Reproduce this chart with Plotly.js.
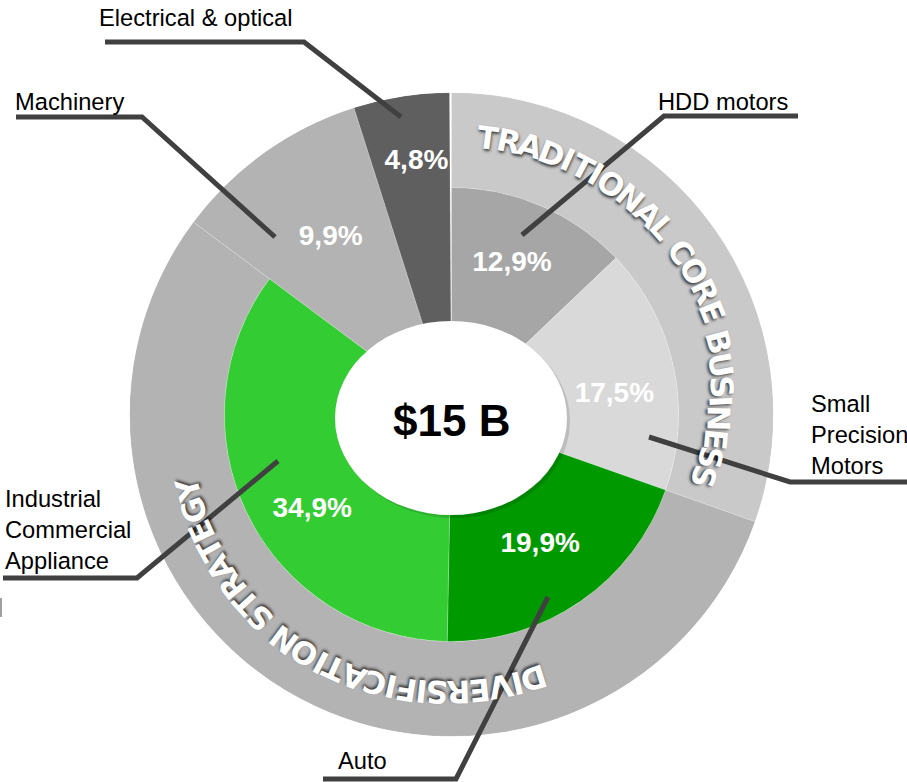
<!DOCTYPE html>
<html><head><meta charset="utf-8">
<script src="https://cdn.plot.ly/plotly-3.0.1.min.js"></script>
<style>html,body{margin:0;padding:0;background:#fff;}#chart{width:907px;height:782px;}</style>
</head><body><div id="chart"></div>
<script>
// ---------- data ----------
const categories = ["HDD motors", "Small Precision Motors", "Auto", "Industrial Commercial Appliance", "Machinery", "Electrical & optical"];
const categoryLabels = ["HDD motors", "Small<br>Precision<br>Motors", "Auto", "Industrial<br>Commercial<br>Appliance", "Machinery", "Electrical & optical"];
const shares = [12.9, 17.5, 19.9, 34.9, 9.9, 4.8];
const categoryGroup = ["TRADITIONAL CORE BUSINESS", "TRADITIONAL CORE BUSINESS", "DIVERSIFICATION STRATEGY", "DIVERSIFICATION STRATEGY", null, null];
const groups = ["TRADITIONAL CORE BUSINESS", "DIVERSIFICATION STRATEGY"];
const totalLabel = "$15 B";

// ---------- style ----------
const W = 907, H = 782, CX = 451.5, CY = 414.5, R_IN = 227, R_OUT = 322;
const FONT = "Liberation Sans, Arial, sans-serif";
const ARC_FONT = "DejaVu Sans";
const ARC_FONT_SIZE = 31;
const sliceColors = ["#a6a6a6", "#d9d9d9", "#009900", "#33cc33", "#b3b3b3", "#5f5f5f"];
const groupColors = ["#c9c9c9", "#b3b3b3"];
const pctLabelShift = [-1.3, 5.4, 0.6, -8.4, 1.1, 1.1];   // deg from slice middle
const pctLabelRadius = [162, 164, 158, 169, 214, 255];
const leaderPaths = [
  [[798,116],[664,116],[522,235]],
  [[907,482],[790,482],[649,437]],
  [[323,779],[456,779],[548,597]],
  [[3,578],[137,578],[278,461]],
  [[16,117],[142,117],[275,237]],
  [[105,42],[304,42],[401,117]]
];
const labelPos = [[656,102],[809,435],[336,761],[3,530],[13,102],[97,18]];
const arcStyle = [
  {t0: 7.5, t1: 103.8, rPts: [[7.5,279],[66,282],[104,260]]},
  {t0: 162.8, t1: 254.1, rPts: [[162.8,276],[216,281],[254.1,274]]}
];

// ---------- geometry via polar axis ----------
const starts = [];
let acc = 0;
shares.forEach(s => { starts.push(acc * 3.6); acc += s; });
const mids = shares.map((s, i) => starts[i] + s * 1.8);

const px = (x, y) => [x / W, 1 - y / H];

const traces = [];
const gTheta = [], gWidth = [];
groups.forEach(g => {
  let st = null, w = 0;
  categories.forEach((c, i) => { if (categoryGroup[i] === g) { if (st === null) st = starts[i]; w += shares[i] * 3.6; } });
  gTheta.push(st + w / 2); gWidth.push(w);
});
traces.push({
  type: 'barpolar', theta: gTheta, width: gWidth,
  r: groups.map(() => R_OUT - R_IN), base: groups.map(() => R_IN),
  marker: {color: groupColors, line: {color: 'rgba(255,255,255,0.35)', width: 0.6}},
  hoverinfo: 'skip', showlegend: false
});
traces.push({
  type: 'barpolar', theta: mids, width: shares.map(s => s * 3.6),
  r: categoryGroup.map(g => g ? R_IN : R_OUT), base: shares.map(() => 0),
  marker: {color: sliceColors, line: {color: 'rgba(255,255,255,0.35)', width: 0.6}},
  hoverinfo: 'skip', showlegend: false
});
traces.push({
  type: 'scatterpolar', mode: 'text',
  theta: mids.map((m, i) => m + pctLabelShift[i]),
  r: pctLabelRadius,
  text: shares.map(s => s.toFixed(1).replace('.', ',') + '%'),
  textposition: 'middle center',
  textfont: {family: FONT, size: 28, color: '#ffffff', weight: 'bold'},
  hoverinfo: 'skip', showlegend: false
});

// ---------- shapes ----------
const shapes = [];
shapes.push({type: 'circle', xref: 'paper', yref: 'paper', layer: 'above',
  x0: 338/W, x1: 570/W, y0: 1 - 518/H, y1: 1 - 324/H,
  fillcolor: 'rgba(0,0,0,0.13)', line: {width: 0}});
shapes.push({type: 'circle', xref: 'paper', yref: 'paper', layer: 'above',
  x0: 335/W, x1: 567/W, y0: 1 - 515/H, y1: 1 - 321/H,
  fillcolor: '#ffffff', line: {width: 0}});
leaderPaths.forEach(p => {
  const d = p.map((pt, k) => (k ? 'L' : 'M') + px(pt[0], pt[1]).join(',')).join(' ');
  shapes.push({type: 'path', xref: 'paper', yref: 'paper', layer: 'above', path: d,
    line: {color: '#404040', width: 5}});
});
shapes.push({type: 'line', xref: 'paper', yref: 'paper', layer: 'above',
  x0: 1/W, x1: 1/W, y0: 1 - 598/H, y1: 1 - 617/H, line: {color: '#808080', width: 1.5}});

// ---------- annotations ----------
const annotations = [];
categoryLabels.forEach((t, i) => {
  const p = px(labelPos[i][0], labelPos[i][1]);
  annotations.push({text: t, x: p[0], y: p[1], xref: 'paper', yref: 'paper',
    xanchor: 'left', yanchor: 'middle', align: 'left', showarrow: false,
    font: {family: FONT, size: 23.7, color: '#000000'}});
});
const cp = px(451, 420);
annotations.push({text: totalLabel, x: cp[0], y: cp[1], xref: 'paper', yref: 'paper',
  xanchor: 'center', yanchor: 'middle', showarrow: false,
  font: {family: FONT, size: 44, color: '#000000', weight: 'bold'}});

const ctx = document.createElement('canvas').getContext('2d');
ctx.font = "bold " + ARC_FONT_SIZE + "px '" + ARC_FONT + "'";
function interp(pts, t) {
  if (t <= pts[0][0]) return pts[0][1];
  for (let k = 1; k < pts.length; k++) {
    if (t <= pts[k][0]) {
      const a = pts[k-1], b = pts[k];
      return a[1] + (b[1] - a[1]) * (t - a[0]) / (b[0] - a[0]);
    }
  }
  return pts[pts.length-1][1];
}
groups.forEach((g, gi) => {
  const st = arcStyle[gi];
  const chars = g.split('');
  const w = chars.map(c => ctx.measureText(c).width);
  const centers = [];
  let s = 0;
  w.forEach(v => { centers.push(s + v / 2); s += v; });
  const c0 = centers[0], c1 = centers[centers.length - 1];
  chars.forEach((ch, i) => {
    if (ch === ' ') return;
    const th = st.t0 + (centers[i] - c0) / (c1 - c0) * (st.t1 - st.t0);
    const r = interp(st.rPts, th);
    const rad = th * Math.PI / 180;
    const p = px(CX + r * Math.sin(rad), CY - r * Math.cos(rad));
    annotations.push({text: ch, x: p[0], y: p[1], xref: 'paper', yref: 'paper',
      xanchor: 'center', yanchor: 'middle', showarrow: false, textangle: th,
      font: {family: ARC_FONT, size: ARC_FONT_SIZE, color: '#ffffff', weight: 'bold',
        shadow: '1px 2px 3px rgba(0,0,0,0.7)'}});
  });
});

const layout = {
  width: W, height: H, margin: {l: 0, r: 0, t: 0, b: 0},
  paper_bgcolor: '#ffffff', plot_bgcolor: '#ffffff', showlegend: false,
  polar: {
    domain: {x: [(CX - R_OUT) / W, (CX + R_OUT) / W], y: [(H - CY - R_OUT) / H, (H - CY + R_OUT) / H]},
    bgcolor: 'rgba(0,0,0,0)', bargap: 0, hole: 0,
    angularaxis: {visible: false, showgrid: false, showline: false, ticks: '', direction: 'clockwise', rotation: 90, thetaunit: 'degrees'},
    radialaxis: {visible: false, showgrid: false, showline: false, ticks: '', range: [0, R_OUT]}
  },
  shapes: shapes, annotations: annotations
};
Plotly.newPlot('chart', traces, layout, {displayModeBar: false, staticPlot: true});
</script>
</body></html>
